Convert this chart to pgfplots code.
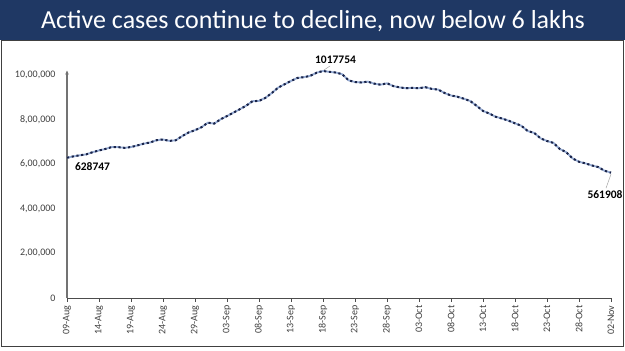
\documentclass[border=0pt]{standalone}
\usepackage{pgfplots}
\pgfplotsset{compat=1.18}
\usepackage{fontspec}
\setmainfont{Carlito}
\usetikzlibrary{arrows.meta}
\definecolor{titlebar}{RGB}{31,56,100}
\definecolor{lineblue}{RGB}{150,172,212}
\definecolor{linedark}{RGB}{25,35,72}
\definecolor{ticktext}{RGB}{64,64,64}
\begin{document}
\begin{tikzpicture}[x=1pt,y=1pt]
\useasboundingbox (0,0) rectangle (625,351);
\fill[white] (0,0) rectangle (625,351);
\fill[titlebar] (0,311) rectangle (625,351);
\node[white, font=\fontsize{26}{30}\selectfont, anchor=base] at (313,322.5) {Active cases continue to decline, now below 6 lakhs};
\draw[black!75, line width=0.9pt] (1,4.5) rectangle (623.5,310.5);
\begin{axis}[
  at={(67pt,53pt)}, anchor=south west,
  scale only axis, width=544pt, height=227.5pt,
  xmin=0, xmax=85, ymin=0, ymax=1020000,
  clip=false,
  axis lines=left,
  scaled y ticks=false,
  x axis line style={-, black!70, line width=0.9pt},
  y axis line style={-{Stealth[length=4pt,width=3.5pt]}, black!55, line width=1.3pt},
  xtick={0,5,...,85},
  xticklabels={09-Aug,14-Aug,19-Aug,24-Aug,29-Aug,03-Sep,08-Sep,13-Sep,18-Sep,23-Sep,28-Sep,03-Oct,08-Oct,13-Oct,18-Oct,23-Oct,28-Oct,02-Nov},
  x tick label style={rotate=90, anchor=east, font=\fontsize{10}{12}\selectfont, text=ticktext},
  ytick={0,200000,400000,600000,800000,1000000},
  yticklabels={0,{2,00,000},{4,00,000},{6,00,000},{8,00,000},{10,00,000}},
  y tick label style={font=\fontsize{10}{12}\selectfont, text=ticktext, xshift=-4pt},
  tick align=outside,
  major tick length=4pt,
  xtick style={black!70, line width=0.8pt},
  ytick style={draw=none},
  /pgf/number format/assume math mode=true,
]
\addplot[lineblue, line width=1.8pt] table {
x y
0 628747
1 634945
2 639929
3 643948
4 653622
5 661595
6 668220
7 676900
8 676514
9 673166
10 676900
11 684000
12 692028
13 697330
14 707668
15 710771
16 704348
17 707267
18 725991
19 742023
20 752424
21 765302
22 785996
23 781975
24 801282
25 815538
26 831124
27 846395
28 862320
29 882542
30 883697
31 897394
32 919018
33 943480
34 958316
35 973175
36 986598
37 990061
38 995933
39 1009976
40 1017754
41 1013964
42 1010824
43 1003299
44 975861
45 968377
46 966382
47 970116
48 960969
49 956402
50 962640
51 950000
52 944000
53 940441
54 942217
55 940705
56 944996
57 937625
58 934427
59 919023
60 907883
61 902425
62 893592
63 883185
64 861853
65 838729
66 826876
67 812390
68 804528
69 795087
70 783311
71 772055
72 748538
73 740090
74 715812
75 703770
76 695509
77 668154
78 653717
79 625857
80 610803
81 603687
82 594386
83 587000
84 570458
85 561908
};
\addplot[linedark, line width=2pt, dash pattern=on 2.2pt off 2.6pt] table {
x y
0 628747
1 634945
2 639929
3 643948
4 653622
5 661595
6 668220
7 676900
8 676514
9 673166
10 676900
11 684000
12 692028
13 697330
14 707668
15 710771
16 704348
17 707267
18 725991
19 742023
20 752424
21 765302
22 785996
23 781975
24 801282
25 815538
26 831124
27 846395
28 862320
29 882542
30 883697
31 897394
32 919018
33 943480
34 958316
35 973175
36 986598
37 990061
38 995933
39 1009976
40 1017754
41 1013964
42 1010824
43 1003299
44 975861
45 968377
46 966382
47 970116
48 960969
49 956402
50 962640
51 950000
52 944000
53 940441
54 942217
55 940705
56 944996
57 937625
58 934427
59 919023
60 907883
61 902425
62 893592
63 883185
64 861853
65 838729
66 826876
67 812390
68 804528
69 795087
70 783311
71 772055
72 748538
73 740090
74 715812
75 703770
76 695509
77 668154
78 653717
79 625857
80 610803
81 603687
82 594386
83 587000
84 570458
85 561908
};
\node[anchor=west, font=\bfseries\fontsize{11.5}{13}\selectfont, xshift=4.5pt, yshift=-8.5pt] at (axis cs:0,628747) {628747};
\draw[black!35, line width=0.5pt] (axis cs:40,1017754) ++(1pt,1pt) -- ++(6pt,4pt);
\node[font=\bfseries\fontsize{11.5}{13}\selectfont, xshift=12.5pt, yshift=11pt] at (axis cs:40,1017754) {1017754};
\draw[black!35, line width=0.5pt] (axis cs:85,561908) ++(0,-1.5pt) -- ++(-5pt,-14pt);
\node[font=\bfseries\fontsize{11.5}{13}\selectfont, xshift=-6pt, yshift=-22pt] at (axis cs:85,561908) {561908};
\end{axis}
\end{tikzpicture}
\end{document}
